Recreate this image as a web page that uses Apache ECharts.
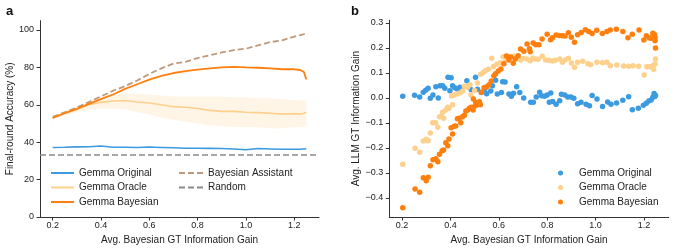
<!DOCTYPE html>
<html><head><meta charset="utf-8">
<script src="https://cdn.jsdelivr.net/npm/echarts@6/dist/echarts.min.js"></script>
<style>html,body{margin:0;padding:0;background:#fff}#c{width:674px;height:250px}</style>
</head><body><div id="c"></div>
<script>
// ---------- Panel a: lines ----------
const lineX = [0.2,0.25,0.3,0.35,0.4,0.45,0.5,0.55,0.6,0.65,0.7,0.75,0.8,0.85,0.9,0.95,1.0,1.05,1.1,1.15,1.2,1.225,1.24,1.25];
const assistantAcc = [53.5,56,58.5,61.5,64.5,67.5,70,73,76.5,79.5,82,83,85,86.5,88,89.3,90,91.8,93.5,94.5,96.5,97.3,97.8,98.2];
const bayesianAcc = [53,55.5,57.8,60.5,63,65.5,68.5,71,73.5,75.5,77,78,78.8,79.5,80,80.3,80,79.8,79.5,79,79,78.6,77.5,73.5];
const oracleAcc = [53,55.5,57.5,60,61.3,62,62.3,61.5,61,60,59,58.7,58,57,56.5,56.5,56,55.8,55.5,55,55.3,55,55.5,56];
const oracleLow = [52.5,54.5,56,57.5,58,58,57.5,56,55,53,52,51,50,49,48.5,48,48,48,47.5,47.5,48,48,48.3,48.5];
const oracleHigh = [53.5,56.5,59,62.5,64.5,65.5,66,66,65.5,65,64.5,64.5,64.5,64.5,64.5,64,64,63.5,63.5,63,62.5,62.5,62.5,62.5];
const originalAcc = [37.2,37.3,37.5,37.6,38,37.3,37.3,37.2,37.4,37.2,37,36.8,36.8,36.7,36.6,36.4,36,36.6,36.4,36.2,36.2,36.2,36.4,36.5];
const randomAcc = 33.33;
const yTicksA = [0,20,40,60,80,100];

// ---------- Panel b: scatter ----------
const origX = [0.203,0.252,0.273,0.288,0.298,0.308,0.317,0.328,0.34,0.35,0.357,0.368,0.377,0.39,0.403,0.398,0.409,0.418,0.428,0.439,0.446,0.468,0.475,0.486,0.504,0.512,0.528,0.542,0.55,0.567,0.574,0.587,0.594,0.611,0.616,0.626,0.642,0.652,0.661,0.674,0.687,0.703,0.732,0.743,0.755,0.769,0.777,0.789,0.80,0.815,0.809,0.823,0.837,0.852,0.859,0.873,0.885,0.898,0.91,0.926,0.94,0.961,0.975,0.986,1.006,1.029,1.05,1.064,1.087,1.113,1.137,1.152,1.177,1.198,1.21,1.22,1.23,1.237,1.242,1.245,1.248];
const origY = [0.007,0.011,0.004,0.023,0.031,0.039,-0.001,0.012,0.045,0.0,0.049,0.049,0.039,0.083,0.081,0.029,0.049,0.041,0.036,0.043,0.033,0.069,0.045,0.033,0.083,0.035,0.022,0.035,0.017,0.028,0.049,0.071,0.016,0.022,0.065,0.064,0.016,0.007,0.019,0.045,0.022,0.0,-0.017,-0.017,0.004,0.023,0.009,0.007,0.012,0.02,-0.017,-0.014,-0.025,-0.011,0.015,0.012,0.004,0.004,-0.001,-0.023,-0.017,-0.025,-0.031,0.010,-0.004,-0.034,-0.016,-0.025,-0.02,-0.009,0.005,-0.047,-0.041,-0.029,-0.021,-0.012,-0.008,0.003,0.018,0.006,0.01];
const oracX = [0.203,0.254,0.273,0.288,0.3,0.308,0.317,0.327,0.339,0.348,0.355,0.364,0.372,0.368,0.381,0.389,0.394,0.409,0.405,0.416,0.427,0.439,0.451,0.458,0.471,0.481,0.485,0.5,0.512,0.525,0.536,0.546,0.557,0.571,0.578,0.592,0.607,0.618,0.63,0.644,0.663,0.679,0.69,0.703,0.716,0.73,0.741,0.752,0.763,0.78,0.794,0.808,0.823,0.834,0.852,0.863,0.874,0.888,0.9,0.913,0.926,0.947,0.969,0.98,1.006,1.029,1.047,1.061,1.088,1.116,1.137,1.155,1.178,1.201,1.212,1.223,1.237,1.24,1.246,1.248];
const oracY = [-0.265,-0.201,-0.217,-0.172,-0.165,-0.171,-0.14,-0.099,-0.099,-0.117,-0.075,-0.075,-0.081,-0.057,-0.048,-0.037,-0.041,-0.027,0.008,0.012,0.016,0.02,0.028,0.047,0.043,0.053,0.012,0.03,0.06,0.095,0.102,0.11,0.115,0.159,0.126,0.135,0.141,0.165,0.153,0.164,0.168,0.159,0.152,0.158,0.156,0.149,0.16,0.156,0.155,0.167,0.152,0.151,0.148,0.151,0.156,0.143,0.152,0.159,0.14,0.123,0.143,0.147,0.137,0.133,0.143,0.141,0.143,0.129,0.132,0.128,0.127,0.129,0.127,0.092,0.125,0.125,0.129,0.115,0.136,0.156];
const bayesX = [0.203,0.254,0.273,0.288,0.3,0.308,0.317,0.328,0.34,0.348,0.355,0.366,0.372,0.381,0.389,0.394,0.403,0.409,0.416,0.422,0.429,0.436,0.443,0.45,0.458,0.464,0.472,0.479,0.486,0.494,0.495,0.502,0.505,0.509,0.52,0.524,0.528,0.539,0.55,0.56,0.569,0.58,0.587,0.598,0.609,0.621,0.632,0.642,0.649,0.66,0.668,0.68,0.69,0.704,0.717,0.727,0.73,0.742,0.753,0.766,0.779,0.80,0.814,0.822,0.837,0.85,0.863,0.874,0.888,0.9,0.913,0.926,0.941,0.958,0.972,0.986,1.005,1.028,1.047,1.061,1.086,1.113,1.134,1.152,1.18,1.2,1.21,1.222,1.23,1.237,1.244,1.246,1.246,1.248];
const bayesY = [-0.439,-0.364,-0.377,-0.319,-0.331,-0.317,-0.271,-0.247,-0.243,-0.255,-0.225,-0.211,-0.208,-0.179,-0.191,-0.164,-0.119,-0.144,-0.113,-0.112,-0.083,-0.081,-0.099,-0.075,-0.069,-0.052,-0.048,-0.041,-0.037,-0.048,-0.004,-0.032,-0.017,-0.028,-0.015,-0.027,0.023,0.041,0.045,0.053,0.068,0.089,0.097,0.108,0.116,0.137,0.168,0.152,0.164,0.139,0.156,0.169,0.196,0.187,0.216,0.197,0.185,0.22,0.213,0.213,0.236,0.255,0.233,0.241,0.252,0.25,0.249,0.248,0.261,0.243,0.223,0.253,0.262,0.273,0.266,0.258,0.271,0.258,0.266,0.272,0.275,0.266,0.241,0.255,0.272,0.232,0.249,0.241,0.239,0.259,0.253,0.242,0.229,0.2];
const yTicksB = [-0.4,-0.3,-0.2,-0.1,0.0,0.1,0.2,0.3];
const xTicks = [0.2,0.4,0.6,0.8,1.0,1.2];

const C_ORIG = '#3b9ae0', C_ORAC = '#fdd08c', C_BAYES = '#ff7f0e', C_ASSIST = '#c0997a', C_RAND = '#8a8a8a';
const FONT = 'Liberation Sans';
const zip = (xs, ys) => xs.map((x, i) => [x, ys[i]]);

const axisCommon = {
  axisLine: { show: true, onZero: false, lineStyle: { color: '#333', width: 1 } },
  splitLine: { show: false },
  nameTextStyle: { fontFamily: FONT, fontSize: 10, color: '#222' }
};
function xAxisDef(gi) {
  return Object.assign({}, axisCommon, {
    type: 'value', gridIndex: gi, min: 0.1475, max: 1.3025,
    name: 'Avg. Bayesian GT Information Gain', nameLocation: 'middle', nameGap: 16,
    axisLabel: { fontFamily: FONT, fontSize: 9, color: '#222', margin: 4,
      customValues: xTicks, formatter: v => v.toFixed(1) },
    axisTick: { show: true, length: 3.5, lineStyle: { color: '#333' }, customValues: xTicks }
  });
}

const names = { oA: 'Gemma Original', rA: 'Gemma Oracle', bA: 'Gemma Bayesian', asA: 'Bayesian Assistant', rdA: 'Random',
  oB: 'Gemma Original', rB: 'Gemma Oracle', bB: 'Gemma Bayesian' };
const legText = { fontFamily: FONT, fontSize: 10, color: '#222' };

const option = {
  animation: false,
  textStyle: { fontFamily: FONT },
  graphic: [
    { type: 'text', left: 6, top: 5, style: { text: 'a', font: 'bold 13px "Liberation Sans"', fill: '#111' } },
    { type: 'text', left: 351, top: 5, style: { text: 'b', font: 'bold 13px "Liberation Sans"', fill: '#111' } }
  ],
  grid: [
    { left: 40, top: 20.65, width: 279, height: 196.35 },
    { left: 389.3, top: 20.25, width: 279.4, height: 196.75 }
  ],
  xAxis: [xAxisDef(0), xAxisDef(1)],
  yAxis: [
    Object.assign({}, axisCommon, { type: 'value', gridIndex: 0, min: 0, max: 105,
      name: 'Final-round Accuracy (%)', nameLocation: 'middle', nameGap: 23,
      axisLabel: { fontFamily: FONT, fontSize: 9, color: '#222', margin: 6, customValues: yTicksA },
      axisTick: { show: true, length: 3.5, lineStyle: { color: '#333' }, customValues: yTicksA } }),
    Object.assign({}, axisCommon, { type: 'value', gridIndex: 1, min: -0.476, max: 0.311,
      name: 'Avg. LLM GT Information Gain', nameLocation: 'middle', nameGap: 25.5,
      axisLabel: { fontFamily: FONT, fontSize: 9, color: '#222', margin: 6, customValues: yTicksB,
        formatter: v => (v < 0 ? '\u2212' + Math.abs(v).toFixed(1) : v.toFixed(1)) },
      axisTick: { show: true, length: 3.5, lineStyle: { color: '#333' }, customValues: yTicksB } })
  ],
  legend: [
    { left: 50, top: 168, padding: 0, orient: 'vertical', itemWidth: 23, itemHeight: 10, itemGap: 4.5,
      itemStyle: { opacity: 0 },
      data: ['oA', 'rA', 'bA'], formatter: n => names[n], textStyle: legText },
    { left: 178, top: 168, padding: 0, orient: 'vertical', itemWidth: 24, itemHeight: 10, itemGap: 4.5,
      itemStyle: { opacity: 0 },
      data: ['asA', 'rdA'], formatter: n => names[n], textStyle: legText },
    { left: 558, top: 168, padding: 0, orient: 'vertical', itemWidth: 27, itemHeight: 5, itemGap: 4.5,
      data: [{ name: 'oB', icon: 'circle' }, { name: 'rB', icon: 'circle' }, { name: 'bB', icon: 'circle' }],
      formatter: n => names[n], textStyle: legText }
  ],
  series: [
    { name: 'bandHigh', type: 'line', xAxisIndex: 0, yAxisIndex: 0, symbol: 'none', silent: true,
      lineStyle: { opacity: 0 }, areaStyle: { color: 'rgba(253,208,140,0.3)', origin: 45 },
      data: zip(lineX, oracleHigh) },
    { name: 'bandLow', type: 'line', xAxisIndex: 0, yAxisIndex: 0, symbol: 'none', silent: true,
      lineStyle: { opacity: 0 }, areaStyle: { color: '#ffffff', opacity: 1, origin: 45 },
      data: zip(lineX, oracleLow) },
    { name: 'rdA', type: 'line', xAxisIndex: 0, yAxisIndex: 0, data: [], symbol: 'none',
      lineStyle: { color: C_RAND, width: 1.5, type: [6, 3] }, itemStyle: { color: C_RAND },
      markLine: { silent: true, symbol: 'none', label: { show: false },
        lineStyle: { color: C_RAND, width: 1.5, type: [6, 3] }, data: [{ yAxis: randomAcc }] } },
    { name: 'oA', type: 'line', xAxisIndex: 0, yAxisIndex: 0, symbol: 'none',
      lineStyle: { color: C_ORIG, width: 1.6 }, itemStyle: { color: C_ORIG }, data: zip(lineX, originalAcc) },
    { name: 'asA', type: 'line', xAxisIndex: 0, yAxisIndex: 0, symbol: 'none',
      lineStyle: { color: C_ASSIST, width: 1.8, type: [6, 3] }, itemStyle: { color: C_ASSIST }, data: zip(lineX, assistantAcc) },
    { name: 'rA', type: 'line', xAxisIndex: 0, yAxisIndex: 0, symbol: 'none',
      lineStyle: { color: C_ORAC, width: 1.6 }, itemStyle: { color: C_ORAC }, data: zip(lineX, oracleAcc) },
    { name: 'bA', type: 'line', xAxisIndex: 0, yAxisIndex: 0, symbol: 'none',
      lineStyle: { color: C_BAYES, width: 1.8 }, itemStyle: { color: C_BAYES }, data: zip(lineX, bayesianAcc) },

    { name: 'oB', type: 'scatter', xAxisIndex: 1, yAxisIndex: 1, symbolSize: 5.5,
      itemStyle: { color: C_ORIG, opacity: 1 }, data: zip(origX, origY) },
    { name: 'rB', type: 'scatter', xAxisIndex: 1, yAxisIndex: 1, symbolSize: 5.5,
      itemStyle: { color: C_ORAC, opacity: 1 }, data: zip(oracX, oracY) },
    { name: 'bB', type: 'scatter', xAxisIndex: 1, yAxisIndex: 1, symbolSize: 5.5,
      itemStyle: { color: C_BAYES, opacity: 1 }, data: zip(bayesX, bayesY) }
  ]
};
const chart = echarts.init(document.getElementById('c'), null, { renderer: 'canvas' });
chart.setOption(option);
</script></body></html>
